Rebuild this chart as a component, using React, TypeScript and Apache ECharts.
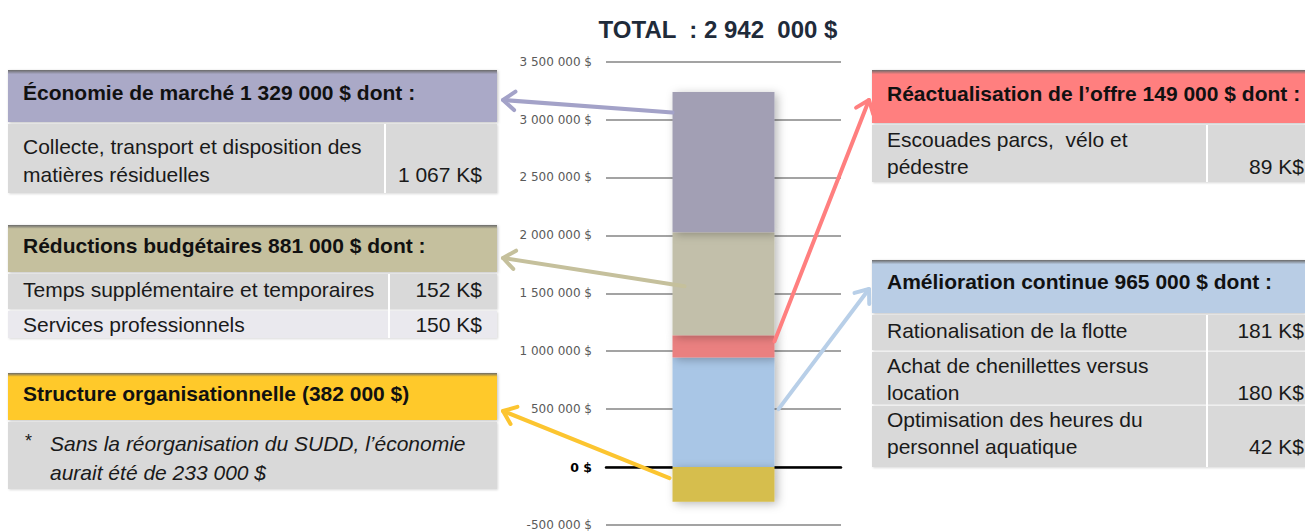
import React, { useEffect, useRef } from "react";
import * as echarts from "echarts";

// ---- data ----
const categories = ["Total"];
const ameliorationValues = [945000];
const reactualisationValues = [192000];
const reductionsValues = [890000];
const economieValues = [1210000];
const structureValues = [-299000];
const yMin = -500000;
const yMax = 3500000;
const yInterval = 500000;
const titleText = "TOTAL  : 2 942  000 $";

// arrow anchors on the bar (data values)
const arrowAnchors = {
  economie: 3060000,
  reductions: 1560000,
  structure: -95000,
  reactualisation: 1085000,
  amelioration: 500000,
};

const FONT = '"Liberation Sans", Arial, sans-serif';

function fmt(v: number): string {
  if (v === 0) return "{z|0 $}";
  const s = Math.abs(v).toString().replace(/\B(?=(\d{3})+(?!\d))/g, " ");
  return (v < 0 ? "-" : "") + s + " $";
}

type Row = { y: number; h: number; color: string; lines: string[]; lineY: number[]; value?: string; valueY?: number; italic?: boolean; star?: boolean };
type Box = { x: number; w: number; hy: number; hh: number; hcolor: string; title: string; titleY: number; rows: Row[]; divider?: number; valueRight: number };

const boxes: Box[] = [
  {
    x: 8, w: 489, hy: 70, hh: 52, hcolor: "#aaa9c7", title: "Économie de marché 1 329 000 $ dont :", titleY: 92,
    rows: [{ y: 122, h: 71, color: "#d9d9d9", lines: ["Collecte, transport et disposition des", "matières résiduelles"], lineY: [146, 174], value: "1 067 K$", valueY: 174 }],
    divider: 385, valueRight: 482,
  },
  {
    x: 8, w: 489, hy: 225, hh: 47, hcolor: "#c5c09e", title: "Réductions budgétaires 881 000 $ dont :", titleY: 245,
    rows: [
      { y: 272, h: 37, color: "#d9d9d9", lines: ["Temps supplémentaire et temporaires"], lineY: [289], value: "152 K$", valueY: 289 },
      { y: 309, h: 29, color: "#eae9ee", lines: ["Services professionnels"], lineY: [324], value: "150 K$", valueY: 324 },
    ],
    divider: 389, valueRight: 482,
  },
  {
    x: 8, w: 489, hy: 373, hh: 47, hcolor: "#ffc92a", title: "Structure organisationnelle (382 000 $)", titleY: 393,
    rows: [{ y: 420, h: 69, color: "#d9d9d9", lines: ["Sans la réorganisation du SUDD, l’économie", "aurait été de 233 000 $"], lineY: [443, 472], italic: true, star: true }],
    valueRight: 482,
  },
  {
    x: 872, w: 433, hy: 70, hh: 53, hcolor: "#ff7f7f", title: "Réactualisation de l’offre 149 000 $ dont :", titleY: 93,
    rows: [{ y: 123, h: 59, color: "#d9d9d9", lines: ["Escouades parcs,  vélo et", "pédestre"], lineY: [139, 166], value: "89 K$", valueY: 166 }],
    divider: 1207, valueRight: 1304,
  },
  {
    x: 872, w: 433, hy: 260, hh: 53, hcolor: "#b9cde5", title: "Amélioration continue 965 000 $ dont :", titleY: 281,
    rows: [
      { y: 313, h: 37, color: "#d9d9d9", lines: ["Rationalisation de la flotte"], lineY: [330], value: "181 K$", valueY: 330 },
      { y: 350, h: 54, color: "#d9d9d9", lines: ["Achat de chenillettes versus", "location"], lineY: [365, 392], value: "180 K$", valueY: 392 },
      { y: 404, h: 63, color: "#d9d9d9", lines: ["Optimisation des heures du", "personnel aquatique"], lineY: [419, 446], value: "42 K$", valueY: 446 },
    ],
    divider: 1207, valueRight: 1304,
  },
];

function txt(x: number, y: number, text: string, opts: any = {}) {
  const align = opts.align || "left";
  return {
    type: "text",
    x, y, z: 20,
    style: {
      text,
      fill: opts.fill || "#1a1a1a",
      font: `${opts.italic ? "italic " : ""}${opts.bold ? "bold " : ""}${opts.size || 21}px ${FONT}`,
      align, textAlign: align,
      verticalAlign: "middle", textVerticalAlign: "middle",
    },
  };
}

function boxElements(b: Box): any[] {
  const els: any[] = [];
  els.push({
    type: "rect", z: 10,
    shape: { x: b.x, y: b.hy, width: b.w, height: b.hh },
    style: {
      fill: {
        type: "linear", x: 0, y: 0, x2: 0, y2: 1,
        colorStops: [
          { offset: 0, color: "#6a6a6a" },
          { offset: 0.08, color: b.hcolor },
          { offset: 1, color: b.hcolor },
        ],
      },
      shadowBlur: 3, shadowColor: "rgba(0,0,0,0.25)", shadowOffsetX: 1, shadowOffsetY: 1,
    },
  });
  els.push(txt(b.x + 15, b.titleY, b.title, { bold: true, fill: "#111" }));
  b.rows.forEach((r) => {
    els.push({
      type: "rect", z: 10,
      shape: { x: b.x, y: r.y + 2, width: b.w, height: r.h - 2 },
      style: { fill: r.color, shadowBlur: 2, shadowColor: "rgba(0,0,0,0.15)", shadowOffsetX: 1, shadowOffsetY: 1 },
    });
    r.lines.forEach((l, i) => {
      els.push(txt(b.x + (r.star ? 42 : 15), r.lineY[i], l, { italic: r.italic }));
    });
    if (r.star) els.push(txt(b.x + 17, r.lineY[0] - 2, "*", { size: 18 }));
    if (r.value) els.push(txt(b.valueRight, r.valueY as number, r.value, { align: "right" }));
  });
  if (b.divider) {
    const top = b.rows[0].y + 2;
    const last = b.rows[b.rows.length - 1];
    els.push({
      type: "line", z: 11,
      shape: { x1: b.divider, y1: top, x2: b.divider, y2: last.y + last.h },
      style: { stroke: "#ffffff", lineWidth: 2 },
    });
  }
  return els;
}

function arrow(sx: number, sy: number, tx: number, ty: number, color: string): any[] {
  const dx = tx - sx, dy = ty - sy;
  const len = Math.sqrt(dx * dx + dy * dy);
  const ux = dx / len, uy = dy / len;
  const L = 15, a = (38 * Math.PI) / 180;
  const rot = (ang: number) => [ux * Math.cos(ang) - uy * Math.sin(ang), ux * Math.sin(ang) + uy * Math.cos(ang)];
  const r1 = rot(a), r2 = rot(-a);
  return [
    { type: "line", z: 100, shape: { x1: sx, y1: sy, x2: tx, y2: ty }, style: { stroke: color, lineWidth: 4, lineCap: "round" } },
    {
      type: "polyline", z: 100,
      shape: { points: [[tx - r1[0] * L, ty - r1[1] * L], [tx, ty], [tx - r2[0] * L, ty - r2[1] * L]] },
      style: { stroke: color, lineWidth: 4, lineCap: "round", lineJoin: "round", fill: "none" },
    },
  ];
}

export default function App() {
  const ref = useRef<HTMLDivElement>(null);
  useEffect(() => {
    if (!ref.current) return;
    const chart = echarts.init(ref.current, undefined, { renderer: "svg" });
    const itemShadow = { shadowBlur: 10, shadowColor: "rgba(0,0,0,0.28)", shadowOffsetX: 3, shadowOffsetY: 2 };
    const mk = (name: string, data: number[], color: string) => ({
      type: "bar", name, stack: "total", data, barWidth: 102,
      itemStyle: { color, ...itemShadow },
    });
    chart.setOption({
      animation: false,
      title: {
        text: titleText, left: 713, top: 12, textAlign: "center",
        textStyle: { fontFamily: FONT, fontWeight: "bold", fontSize: 24, color: "#1f2b3a" },
      },
      grid: { left: 606, right: 464, top: 61.6, bottom: 5 },
      xAxis: {
        type: "category", data: categories,
        axisLine: { show: true, onZero: true, lineStyle: { color: "#000", width: 2.5 } },
        axisTick: { show: false }, axisLabel: { show: false }, splitLine: { show: false },
      },
      yAxis: {
        type: "value", min: yMin, max: yMax, interval: yInterval,
        axisLine: { show: false }, axisTick: { show: false },
        splitLine: { lineStyle: { color: "#a3a3a3", width: 2 } },
        axisLabel: {
          formatter: fmt, margin: 14, color: "#5a5a5a", fontFamily: '"DejaVu Sans", sans-serif', fontSize: 12,
          rich: { z: { fontWeight: "bold", color: "#000", fontFamily: '"DejaVu Sans", sans-serif', fontSize: 12.5 } },
        },
      },
      series: [
        mk("Amélioration continue", ameliorationValues, "#a9c6e6"),
        mk("Réactualisation de l’offre", reactualisationValues, "#ea8080"),
        mk("Réductions budgétaires", reductionsValues, "#c2bfaa"),
        mk("Économie de marché", economieValues, "#a29fb4"),
        mk("Structure organisationnelle", structureValues, "#d6be4e"),
      ],
    });
    const p = (v: number) => chart.convertToPixel({ xAxisIndex: 0, yAxisIndex: 0 }, [0, v]) as number[];
    const half = 51;
    const e = p(arrowAnchors.economie);
    const r = p(arrowAnchors.reductions);
    const s = p(arrowAnchors.structure);
    const ra = p(arrowAnchors.reactualisation);
    const am = p(arrowAnchors.amelioration);
    const elements: any[] = [];
    boxes.forEach((b) => elements.push(...boxElements(b)));
    elements.push(...arrow(e[0] - half, e[1], 503, 100, "#a3a2c8"));
    elements.push(...arrow(r[0] - half + 12, r[1], 503, 258, "#c5c09c"));
    elements.push(...arrow(s[0] - half - 3, s[1], 503, 411, "#fcc530"));
    elements.push(...arrow(ra[0] + half, ra[1], 869, 100, "#ff7f7f"));
    elements.push(...arrow(am[0] + half + 4, am[1], 869, 289, "#b8cfe8"));
    chart.setOption({ graphic: { elements } });
    return () => chart.dispose();
  }, []);
  return <div ref={ref} style={{ position: "absolute", left: 0, top: 0, width: 1305, height: 531 }} />;
}
